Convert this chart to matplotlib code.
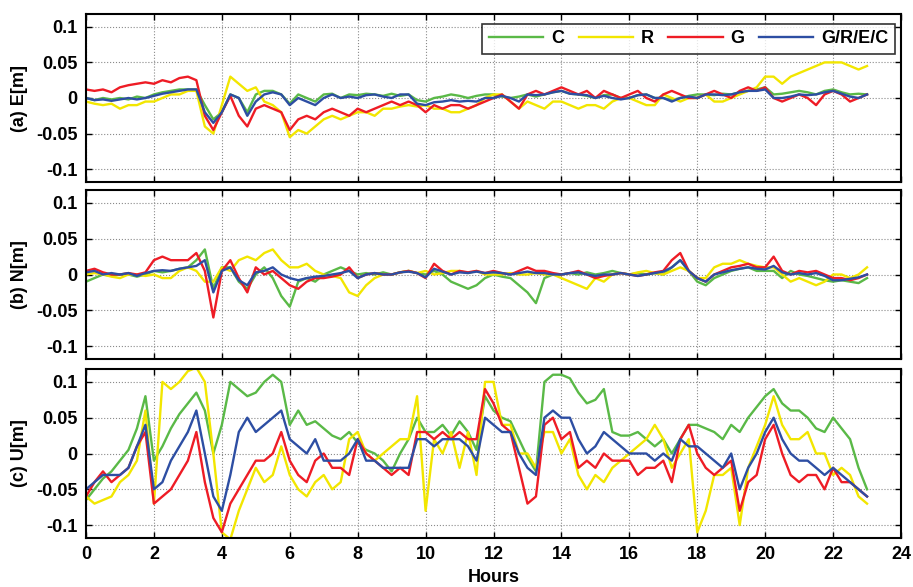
import numpy as np
import matplotlib
matplotlib.use("Agg")
import matplotlib.pyplot as plt

hours = np.arange(0, 23.001, 0.25)

# ---------------- (a) East ----------------
E_C = [0.0, -0.003, 0.0, -0.002,
       0.0, -0.002, 0.002, 0.0,
       0.005, 0.008, 0.01, 0.012,
       0.012, 0.012, -0.01, -0.03,
       -0.02, 0.005, 0.0, -0.02,
       0.005, 0.01, 0.01, 0.005,
       -0.008, 0.005, 0.0, -0.005,
       0.005, 0.006, 0.0, 0.005,
       0.004, 0.006, 0.005, 0.003,
       0.006, 0.003, 0.005, -0.003,
       -0.005, 0.0, 0.002, 0.005,
       0.003, 0.0, 0.003, 0.005,
       0.005, 0.002, 0.0, 0.002,
       0.005, 0.002, 0.005, 0.008,
       0.01, 0.006, 0.005, 0.003,
       0.0, 0.004, 0.005, 0.0,
       0.0, 0.004, 0.005, 0.0,
       0.0, -0.003, 0.0, 0.003,
       0.005, 0.005, 0.004, 0.006,
       0.005, 0.008, 0.01, 0.012,
       0.015, 0.005, 0.006, 0.008,
       0.01, 0.008, 0.005, 0.01,
       0.012, 0.008, 0.005, 0.006,
       0.005]
E_R = [-0.005, -0.008, -0.01, -0.008,
       -0.015, -0.01, -0.01, -0.005,
       -0.005, 0.0, 0.005, 0.005,
       0.01, 0.01, -0.04, -0.05,
       -0.01, 0.03, 0.02, 0.01,
       0.015, -0.005, -0.01, -0.02,
       -0.055, -0.045, -0.05, -0.04,
       -0.03, -0.025, -0.03, -0.025,
       -0.02, -0.02, -0.025, -0.015,
       -0.015, -0.012, -0.01, -0.012,
       -0.01, -0.015, -0.015, -0.02,
       -0.02, -0.015, -0.01, 0.0,
       0.005, 0.005, -0.005, -0.015,
       -0.005, -0.01, -0.015, -0.005,
       -0.005, -0.01, -0.015, -0.01,
       -0.01, -0.015, -0.005, 0.0,
       0.0, -0.005, -0.01, -0.01,
       0.005, 0.0, -0.005, 0.0,
       0.0, 0.005, -0.005, -0.005,
       0.0, 0.005, 0.01, 0.015,
       0.03, 0.03, 0.02, 0.03,
       0.035, 0.04, 0.045, 0.05,
       0.05, 0.05, 0.045, 0.04,
       0.045]
E_G = [0.012, 0.01, 0.012, 0.008,
       0.015, 0.018, 0.02, 0.022,
       0.02, 0.025, 0.022, 0.028,
       0.03, 0.025, -0.025, -0.045,
       -0.02, 0.003, -0.025, -0.04,
       -0.015, -0.01, -0.015, -0.02,
       -0.045, -0.03, -0.025, -0.03,
       -0.02, -0.015, -0.02, -0.025,
       -0.015, -0.02, -0.015, -0.01,
       -0.005, -0.01, -0.005, -0.01,
       -0.02, -0.01, -0.015, -0.01,
       -0.01, -0.015, -0.01, -0.005,
       0.0, 0.005, -0.005, -0.015,
       0.005, 0.01, 0.005, 0.01,
       0.015, 0.01, 0.005, 0.01,
       0.0, 0.01, 0.005, 0.0,
       0.005, 0.01, 0.0, -0.005,
       0.005, 0.01, 0.005, 0.0,
       0.0, 0.005, 0.01, 0.005,
       0.0, 0.01, 0.015, 0.01,
       0.015, 0.0, -0.005, 0.0,
       0.005, 0.0, -0.01, 0.005,
       0.01, 0.005, -0.005, 0.0,
       0.005]
E_GREC = [0.0, -0.003, -0.002, -0.004,
          -0.002, 0.0, -0.002, 0.0,
          0.003, 0.006, 0.008, 0.01,
          0.012, 0.012, -0.02, -0.035,
          -0.02, 0.005, 0.0, -0.025,
          -0.005, 0.005, 0.008, 0.005,
          -0.01, 0.0, -0.005, -0.01,
          0.0, 0.005, 0.0, 0.002,
          0.0, 0.004, 0.005, 0.002,
          0.0, 0.005, 0.005, -0.008,
          -0.01, -0.006, -0.005, -0.003,
          -0.005, -0.004, -0.005, 0.0,
          0.0, 0.003, 0.0, -0.005,
          0.005, 0.004, 0.005, 0.008,
          0.01, 0.006, 0.005, 0.004,
          0.0, 0.003, 0.0, -0.002,
          0.0, 0.004, 0.005, 0.0,
          0.0, -0.005, 0.0, 0.002,
          0.0, 0.005, 0.005, 0.004,
          0.005, 0.008, 0.01, 0.01,
          0.012, 0.0, 0.0, 0.002,
          0.005, 0.004, 0.005, 0.008,
          0.01, 0.006, 0.002, 0.0,
          0.005]

# ---------------- (b) North ----------------
N_C = [-0.01, -0.005, 0.0, -0.002,
       0.0, 0.0, -0.003, 0.0,
       0.005, 0.003, 0.005, 0.008,
       0.01, 0.02, 0.035, -0.02,
       0.01, 0.01, -0.01, -0.02,
       0.0, 0.01, -0.005, -0.03,
       -0.045, -0.01, -0.005, -0.01,
       0.0, 0.005, 0.01, 0.005,
       0.0, 0.002, 0.0, 0.003,
       0.0, 0.003, 0.005, 0.002,
       0.0, 0.005, 0.0, -0.01,
       -0.015, -0.02, -0.015, -0.005,
       0.0, -0.003, -0.005, -0.015,
       -0.025, -0.04, -0.005, 0.0,
       0.0, 0.002, 0.0, 0.003,
       0.0, 0.002, 0.005, 0.002,
       0.0, 0.002, 0.0, 0.002,
       0.0, 0.01, 0.02, 0.005,
       -0.01, -0.015, -0.005, 0.0,
       0.005, 0.008, 0.01, 0.005,
       0.005, 0.005, -0.005, 0.005,
       0.0, -0.002, -0.005, -0.008,
       -0.01, -0.008, -0.01, -0.012,
       -0.005]
N_R = [0.0, 0.002, 0.0, -0.003,
       -0.005, 0.0, 0.0, -0.002,
       0.0, -0.005, -0.005, 0.005,
       0.01, 0.005, -0.01, -0.01,
       0.01, 0.005, 0.02, 0.025,
       0.02, 0.03, 0.035, 0.02,
       0.01, 0.01, 0.015, 0.005,
       0.0, -0.002, -0.005, -0.025,
       -0.03, -0.015, -0.005, 0.0,
       0.0, 0.003, 0.005, 0.002,
       0.005, 0.0, 0.002, 0.005,
       0.005, 0.002, 0.005, 0.0,
       0.0, 0.0, 0.002, 0.0,
       0.0, 0.002, 0.0, 0.0,
       -0.005, -0.01, -0.015, -0.02,
       -0.005, -0.01, 0.0, 0.002,
       0.0, 0.003, 0.005, 0.002,
       0.0, 0.005, 0.01, 0.005,
       -0.005, -0.005, 0.01, 0.015,
       0.015, 0.02, 0.015, 0.012,
       0.01, 0.01, 0.0, -0.01,
       -0.005, -0.01, -0.015, -0.01,
       0.0, 0.0, -0.005, 0.0,
       0.01]
N_G = [0.005, 0.008, 0.003, 0.0,
       0.0, 0.002, 0.0, 0.003,
       0.02, 0.025, 0.02, 0.02,
       0.02, 0.03, 0.005, -0.06,
       0.005, 0.02, -0.005, -0.025,
       0.01, 0.0, 0.005, -0.005,
       -0.015, -0.02, -0.01, -0.005,
       -0.005, -0.003, 0.0, 0.01,
       -0.005, 0.0, 0.002, 0.0,
       0.0, 0.003, 0.005, 0.002,
       -0.005, 0.015, 0.005, 0.0,
       0.005, 0.003, 0.005, 0.002,
       0.005, 0.002, 0.0, 0.005,
       0.01, 0.005, 0.005, 0.002,
       0.0, 0.002, 0.005, 0.0,
       -0.005, -0.002, 0.0, 0.002,
       0.0, -0.002, 0.0, 0.003,
       0.005, 0.02, 0.03, 0.005,
       -0.005, -0.01, 0.0, 0.005,
       0.01, 0.012, 0.015, 0.01,
       0.01, 0.025, 0.005, 0.0,
       0.005, 0.003, 0.005, 0.0,
       -0.005, -0.005, -0.008, -0.005,
       0.0]
N_GREC = [0.003, 0.005, 0.0, 0.002,
          0.0, 0.002, -0.002, 0.002,
          0.005, 0.006, 0.005, 0.008,
          0.01, 0.012, 0.02, -0.025,
          0.005, 0.01, -0.008, -0.015,
          0.003, 0.005, 0.01, 0.0,
          -0.005, -0.008, -0.005, -0.003,
          -0.002, 0.0, 0.002, 0.005,
          -0.005, 0.0, 0.002, 0.0,
          0.0, 0.003, 0.004, 0.002,
          -0.004, 0.008, 0.004, 0.0,
          0.003, 0.002, 0.004, 0.002,
          0.003, 0.002, 0.0, 0.002,
          0.004, 0.002, 0.002, 0.0,
          0.0, 0.002, 0.003, 0.0,
          -0.002, 0.0, 0.0, 0.002,
          0.0, -0.002, 0.0, 0.002,
          0.004, 0.01, 0.02, 0.005,
          -0.005, -0.01, 0.0, 0.003,
          0.006, 0.008, 0.01, 0.008,
          0.007, 0.012, 0.003, 0.0,
          0.002, 0.0, 0.002, -0.002,
          -0.008, -0.008, -0.006, -0.004,
          0.0]

# ---------------- (c) Up ----------------
U_C = [-0.065, -0.05, -0.035, -0.025,
       -0.01, 0.005, 0.035, 0.08,
       -0.01, 0.01, 0.035, 0.055,
       0.07, 0.085, 0.06, 0.0,
       0.04, 0.1, 0.09, 0.08,
       0.085, 0.1, 0.11, 0.1,
       0.04, 0.06, 0.04, 0.045,
       0.035, 0.025, 0.02, 0.03,
       0.015, 0.005, 0.0, -0.01,
       -0.025, 0.0, 0.02, 0.05,
       0.03, 0.03, 0.04, 0.025,
       0.045, 0.03, 0.005, 0.08,
       0.06, 0.05, 0.045, 0.02,
       -0.005, -0.025, 0.1, 0.11,
       0.11, 0.105, 0.085, 0.07,
       0.075, 0.09, 0.03, 0.025,
       0.025, 0.03, 0.02, 0.01,
       0.02, 0.0, 0.02, 0.04,
       0.04, 0.035, 0.03, 0.02,
       0.04, 0.03, 0.05, 0.065,
       0.08, 0.09, 0.07, 0.06,
       0.06, 0.05, 0.035, 0.03,
       0.05, 0.035, 0.02, -0.02,
       -0.05]
U_R = [-0.06, -0.07, -0.065, -0.06,
       -0.04, -0.03, -0.01, 0.06,
       -0.07, 0.1, 0.09, 0.1,
       0.115, 0.12, 0.1, 0.0,
       -0.11, -0.12, -0.08, -0.05,
       -0.02, -0.04, -0.03, 0.01,
       -0.03, -0.05, -0.06, -0.04,
       -0.03, -0.05, -0.04, 0.02,
       0.03, 0.0, -0.01, 0.0,
       0.01, 0.02, 0.02, 0.08,
       -0.08, 0.02, 0.0, 0.03,
       -0.02, 0.03, -0.03, 0.1,
       0.1, 0.04, 0.04, 0.0,
       0.0, -0.02, 0.03, 0.03,
       0.0, 0.02, -0.03, -0.05,
       -0.03, -0.04, -0.02, -0.01,
       0.0, 0.01, 0.02, 0.04,
       0.02, -0.02, 0.0, 0.02,
       -0.11, -0.08, -0.03, -0.03,
       -0.02, -0.1, -0.02, 0.01,
       0.04, 0.08, 0.04, 0.02,
       0.02, 0.03, 0.0, 0.0,
       -0.03, -0.02, -0.03, -0.06,
       -0.07]
U_G = [-0.06, -0.04, -0.025, -0.04,
       -0.03, -0.02, 0.01, 0.03,
       -0.07, -0.06, -0.05, -0.03,
       -0.01, 0.03, -0.04, -0.09,
       -0.11, -0.07, -0.05, -0.03,
       -0.01, -0.01, 0.0, 0.03,
       -0.01, -0.03, -0.04, -0.01,
       0.0, -0.02, -0.02, -0.03,
       0.02, 0.0, -0.01, -0.02,
       -0.03, -0.02, -0.03, 0.03,
       0.03, 0.02, 0.03, 0.02,
       0.03, 0.02, 0.02, 0.09,
       0.07, 0.04, 0.03, -0.02,
       -0.07, -0.06, 0.04, 0.05,
       0.02, 0.03, -0.02, -0.01,
       -0.02, 0.0, -0.01, -0.01,
       -0.01, -0.03, -0.02, -0.02,
       -0.01, -0.04, 0.02, 0.04,
       0.0, -0.02, -0.03, -0.02,
       -0.01, -0.08, -0.04, -0.03,
       0.02, 0.04, 0.0, -0.03,
       -0.04, -0.03, -0.03, -0.05,
       -0.02, -0.04, -0.04, -0.05,
       -0.06]
U_GREC = [-0.05, -0.04, -0.03, -0.03,
          -0.03, -0.02, 0.01, 0.04,
          -0.05, -0.04, -0.01, 0.01,
          0.03, 0.06, 0.0, -0.06,
          -0.08, -0.03, 0.03, 0.05,
          0.03, 0.04, 0.05, 0.06,
          0.02, 0.01, 0.0, 0.02,
          -0.01, -0.01, -0.01, 0.0,
          0.02, -0.01, -0.01, -0.02,
          -0.02, -0.02, -0.02, 0.02,
          0.02, 0.01, 0.02, 0.02,
          0.02, 0.01, -0.01, 0.05,
          0.04, 0.03, 0.03, 0.0,
          -0.02, -0.03, 0.05, 0.06,
          0.05, 0.05, 0.02, 0.0,
          0.01, 0.03, 0.02, 0.01,
          0.0, 0.0, 0.0, -0.01,
          0.0, -0.01, 0.02, 0.01,
          0.01, 0.0, -0.01, -0.02,
          0.0, -0.05, -0.02, 0.0,
          0.03, 0.05, 0.02, 0.0,
          -0.01, -0.01, -0.02, -0.03,
          -0.02, -0.03, -0.04, -0.05,
          -0.06]

series_names = ["C", "R", "G", "G/R/E/C"]
colors = ["#5ab947", "#f2e600", "#ee1c25", "#2d4ea3"]
panels = [("(a) E[m]", [E_C, E_R, E_G, E_GREC]),
          ("(b) N[m]", [N_C, N_R, N_G, N_GREC]),
          ("(c) U[m]", [U_C, U_R, U_G, U_GREC])]
yticks = [-0.1, -0.05, 0, 0.05, 0.1]
yticklabels = ["-0.1", "-0.05", "0", "0.05", "0.1"]
xticks = list(range(0, 25, 2))

plt.rcParams['font.family'] = ['Liberation Sans', 'DejaVu Sans']
plt.rcParams['font.weight'] = 'bold'

fig = plt.figure(figsize=(9.13, 5.87), dpi=100)
W, H = 913.0, 587.0
left, right = 86 / W, 901 / W
boxes = [(14, 182), (190, 359), (369, 538)]

axes = []
for (top, bot), (lab, data) in zip(boxes, panels):
    ax = fig.add_axes([left, 1 - bot / H, right - left, (bot - top) / H])
    for vals, col, name in zip(data, colors, series_names):
        ax.plot(hours, vals, color=col, lw=1.7, label=name)
    ax.set_xlim(0, 24)
    ax.set_ylim(-0.118, 0.118)
    ax.set_yticks(yticks)
    ax.set_yticklabels(yticklabels, fontsize=13, fontweight='bold')
    ax.set_xticks(xticks)
    ax.grid(True, color='#8a8a8a', linestyle=':', linewidth=0.8)
    ax.tick_params(direction='in', top=True, right=True, length=4, width=1, pad=6)
    for s in ax.spines.values():
        s.set_linewidth(1.5)
    ax.set_ylabel(lab, fontsize=13, fontweight='bold')
    ax.yaxis.set_label_coords(-0.071, 0.5)
    axes.append(ax)

for ax in axes[:2]:
    ax.set_xticklabels([])
axes[2].set_xticklabels([str(v) for v in xticks], fontsize=13, fontweight='bold')
axes[2].set_xlabel("Hours", fontsize=13, fontweight='bold', labelpad=4)

leg = axes[0].legend(loc='upper right', ncol=4, fontsize=13, frameon=True,
                     fancybox=False, edgecolor='black', handlelength=3.0,
                     columnspacing=0.8, handletextpad=0.45, borderpad=0.35,
                     borderaxespad=0.0, bbox_to_anchor=(0.9926, 0.94))
leg.get_frame().set_linewidth(1.2)
for t in leg.get_texts():
    t.set_fontweight('bold')

fig.savefig("out.png", dpi=100)
